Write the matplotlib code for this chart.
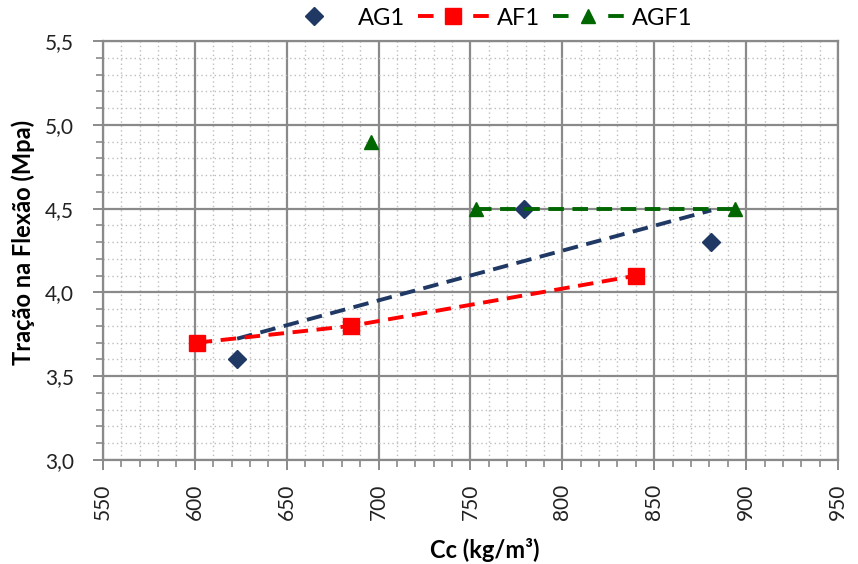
import numpy as np
import matplotlib
matplotlib.use("Agg")
import matplotlib.pyplot as plt
from matplotlib.lines import Line2D
from matplotlib.ticker import MultipleLocator, FuncFormatter

plt.rcParams['font.family'] = ['Lato', 'DejaVu Sans']

# Series data
ag1_x = [623, 779, 881]
ag1_y = [3.6, 4.5, 4.3]
af1_x = [601, 685, 840]
af1_y = [3.7, 3.8, 4.1]
agf1_x = [696, 753, 894]
agf1_y = [4.9, 4.5, 4.5]

x_ticks = [550, 600, 650, 700, 750, 800, 850, 900, 950]
y_ticks = [3.0, 3.5, 4.0, 4.5, 5.0, 5.5]

navy = '#1F3864'
red = '#FF0000'
green = '#006600'
grid_gray = '#8A8A8A'

LW = 2.8
DASH = (4.0, 2.2)
MS_D, MS_S, MS_T = 9, 11, 10.5

fig = plt.figure(figsize=(8.58, 5.64), dpi=100)
ax = fig.add_axes([0.120, 0.1844, 0.8567, 0.7429])

ax.set_xlim(x_ticks[0], x_ticks[-1])
ax.set_ylim(y_ticks[0], y_ticks[-1])
ax.set_xticks(x_ticks)
ax.set_yticks(y_ticks)
ax.xaxis.set_minor_locator(MultipleLocator(10))
ax.yaxis.set_minor_locator(MultipleLocator(0.1))
ax.yaxis.set_major_formatter(FuncFormatter(lambda v, p: f"{v:.1f}".replace('.', ',')))

ax.grid(which='major', color=grid_gray, linewidth=1.6, linestyle='-', zorder=0)
ax.grid(which='minor', color='#BDBDBD', linewidth=1.0, linestyle=(0, (1, 2.2)), zorder=0)
ax.set_axisbelow(True)
for s in ax.spines.values():
    s.set_color(grid_gray)
    s.set_linewidth(1.6)

ax.tick_params(which='major', direction='out', length=7, width=1.4, color=grid_gray,
               labelsize=15, labelcolor='#222222')
ax.tick_params(which='minor', direction='out', length=5, width=1.2, color=grid_gray)
ax.tick_params(axis='x', which='major', labelrotation=90, pad=10)
ax.tick_params(axis='y', which='major', pad=14)

# AG1: markers plus a linear trend line
ax.plot(ag1_x, ag1_y, linestyle='none', marker='D', markersize=MS_D, color=navy,
        zorder=4)
coef = np.polyfit(ag1_x, ag1_y, 1)
tx = np.array([min(ag1_x), max(ag1_x)])
ax.plot(tx, np.polyval(coef, tx), color=navy, linewidth=LW, dashes=DASH, zorder=3)

# AF1: dashed connected series
ax.plot(af1_x, af1_y, color=red, linewidth=LW, dashes=DASH, marker='s',
        markersize=MS_S, zorder=4)

# AGF1: isolated first point, dashed segment through the rest
ax.plot(agf1_x[1:], agf1_y[1:], color=green, linewidth=LW, dashes=DASH,
        marker='^', markersize=MS_T, zorder=4)
ax.plot(agf1_x[:1], agf1_y[:1], linestyle='none', marker='^', markersize=MS_T,
        color=green, zorder=4)

ax.set_xlabel('Cc (kg/m³)', fontsize=17, fontweight='bold')
ax.set_ylabel('Tração na Flexão (Mpa)', fontsize=17, fontweight='bold')
ax.xaxis.set_label_coords(0.52, -0.186)
ax.yaxis.set_label_coords(-0.092, 0.52)

# Legend entries: dash - marker - dash
leg_dash = (4.0, 10.2)
handles = [
    Line2D([], [], linestyle='none', marker='D', markersize=MS_D, color=navy),
    Line2D([], [], color=red, linewidth=LW, dashes=leg_dash, marker='s', markersize=MS_S),
    Line2D([], [], color=green, linewidth=LW, dashes=leg_dash, marker='^', markersize=MS_T),
]
fig.legend(handles, ['AG1', 'AF1', 'AGF1'], loc='center', bbox_to_anchor=(0.566, 0.968),
           ncol=3, frameon=False, fontsize=17, handlelength=3.0, columnspacing=0.55,
           handletextpad=0.35, borderpad=0.1)

fig.savefig('out.png', dpi=100)
